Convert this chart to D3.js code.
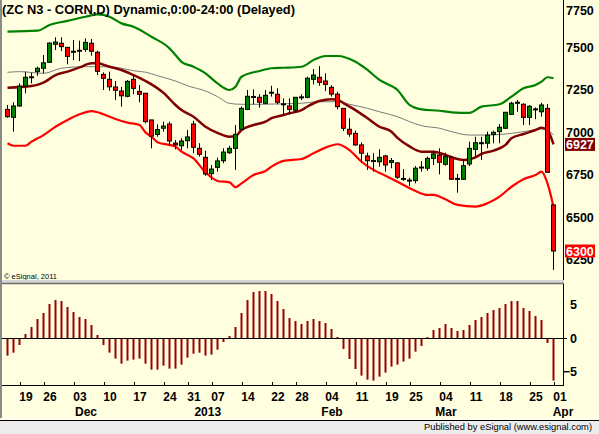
<!DOCTYPE html>
<html>
<head>
<meta charset="utf-8">
<script src="https://cdn.jsdelivr.net/npm/d3@7"></script>
<style>
  body { margin: 0; background: #ffffe0; }
  svg { display: block; font-family: "Liberation Sans", Arial, sans-serif; }
</style>
</head>
<body>
<div id="chart"></div>
<script>
// ZC N3 daily bars, Nov 14 2012 .. Mar 28 2013 (bar index 0..91)
var opens  = [7133,7086,7153,7270,7322,7355,7375,7410,7516,7522,7498,7472,7478,7486,7522,7469,7339,7310,7265,7241,
              7210,7310,7239,7228,7071,6986,7022,7047,6935,6919,6949,7047,6904,6851,6755,6792,6831,6878,6904,7016,
              7133,7206,7204,7169,7231,7222,7163,7153,7128,7204,7204,7310,7322,7300,7263,7223,7139,7016,6992,6924,
              6859,6829,6825,6859,6821,6818,6724,6714,6714,6791,6787,6845,6865,6810,6849,6724,6722,6812,6898,6934,
              6934,6986,7002,7022,7104,7172,7163,7086,7133,7119,7139,6571];
var highs  = [7159,7175,7286,7355,7349,7384,7453,7527,7557,7557,7498,7541,7537,7551,7547,7478,7351,7355,7300,7265,
              7306,7335,7276,7228,7071,7045,7061,7061,6953,6963,7012,7066,6934,6890,6806,6849,6904,6919,7041,7149,
              7247,7251,7222,7247,7272,7257,7198,7198,7204,7222,7325,7370,7388,7345,7276,7237,7139,7081,7008,6939,
              6878,6875,6898,6865,6847,6822,6782,6731,6800,6829,6855,6890,6904,6878,6855,6753,6841,6943,6972,6972,
              7002,7008,7047,7116,7178,7188,7169,7159,7145,7172,7165,6571];
var lows   = [7084,7002,7149,7228,7286,7331,7345,7407,7482,7476,7398,7423,7417,7472,7449,7335,7247,7243,7188,7149,
              7204,7222,7175,7051,6904,6972,7002,6924,6898,6894,6904,6875,6855,6743,6718,6767,6816,6871,6777,7012,
              7129,7163,7143,7163,7208,7163,7100,7104,7119,7188,7198,7280,7272,7241,7208,7133,7006,6972,6919,6819,
              6777,6767,6796,6767,6787,6724,6712,6682,6698,6767,6772,6806,6751,6802,6718,6643,6718,6800,6859,6835,
              6904,6934,6934,7018,7100,7119,7041,7041,7075,7090,6763,6189];
var closes = [7090,7153,7270,7322,7322,7375,7407,7523,7529,7502,7445,7472,7478,7527,7475,7357,7316,7266,7245,7213,
              7298,7257,7222,7061,6976,7014,7035,6947,6924,6947,6971,6910,6869,6753,6782,6830,6882,6904,6986,7139,
              7210,7206,7175,7216,7231,7175,7163,7133,7204,7204,7316,7335,7292,7280,7223,7149,7022,6988,6924,6875,
              6831,6829,6851,6806,6832,6734,6724,6714,6787,6791,6845,6871,6822,6855,6722,6724,6802,6904,6937,6934,
              6982,6998,7028,7116,7169,7172,7086,7151,7133,7159,6763,6300];

// oscillator histogram (lower panel)
var oscValues = [-2.65,-2.2,-1.05,0.6,1.65,2.85,3.75,5.1,5.7,5.55,4.65,3.9,3.15,2.85,1.95,0.45,-1.05,-2.2,-3.1,-3.85,
                 -3.4,-3.25,-3.1,-3.85,-4.75,-4.75,-4.15,-4.6,-4.6,-4.0,-2.95,-2.35,-2.2,-2.65,-2.5,-1.75,-0.6,0.3,1.65,3.75,
                 5.7,6.9,7.05,7.05,6.6,5.55,4.35,3.0,2.55,2.1,2.55,2.85,2.55,2.25,1.35,0.15,-1.65,-3.15,-4.65,-5.65,
                 -6.25,-6.4,-5.8,-5.2,-4.3,-4.0,-3.55,-3.1,-2.05,-1.2,0.15,1.2,1.5,2.1,1.5,1.05,1.2,1.95,2.7,3.15,
                 3.75,4.2,4.5,5.1,5.55,5.55,4.5,4.05,3.3,2.7,-0.75,-6.4];

// overlay lines, read as [bar index, price]
var upperBand = [[0,7590],[5,7596],[7,7629],[10,7654],[13,7678],[15,7692],[17,7678],[19,7639],[21,7619],[24,7560],
                 [27,7492],[28,7453],[29,7413],[31,7384],[33,7345],[35,7286],[37,7247],[38,7266],[39,7325],[42,7359],
                 [44,7375],[46,7378],[49,7384],[51,7423],[53,7447],[55,7447],[58,7413],[60,7365],[62,7306],[65,7247],
                 [67,7159],[69,7133],[72,7125],[74,7116],[77,7113],[79,7149],[82,7163],[84,7208],[86,7257],[88,7276],
                 [89,7296],[90,7322],[91,7316]];
var midLine   = [[0,7260],[4,7270],[6,7290],[8,7335],[10,7355],[12,7380],[14,7404],[15,7404],[17,7384],[19,7365],
                 [21,7335],[22,7319],[24,7280],[26,7230],[28,7159],[29,7129],[31,7090],[33,7031],[35,6995],[37,6972],
                 [38,6976],[39,7012],[41,7041],[43,7061],[44,7081],[46,7100],[47,7110],[49,7129],[50,7150],[52,7182],
                 [54,7192],[55,7190],[56,7170],[58,7129],[60,7081],[62,7031],[64,7002],[65,6965],[67,6915],[69,6884],
                 [71,6884],[73,6865],[75,6841],[76,6835],[78,6851],[79,6871],[81,6890],[83,6924],[84,6963],[86,6988],
                 [88,7012],[89,7025],[90,7010],[91,6927]];
var longLine  = [[0,7351],[2,7355],[6,7345],[9,7375],[13,7384],[16,7384],[19,7375],[21,7360],[23,7352],[25,7331],
                 [28,7300],[30,7272],[33,7241],[35,7208],[37,7168],[39,7163],[42,7163],[45,7165],[49,7169],[52,7178],
                 [55,7178],[57,7163],[60,7139],[62,7119],[65,7090],[67,7061],[69,7037],[72,7022],[74,7002],[77,6982],
                 [80,6982],[84,6992],[87,7008],[89,7018],[90,7012],[91,6982]];
var lowerBand = [[0,6934],[1,6919],[3,6919],[4,6943],[6,6982],[8,7031],[10,7071],[12,7104],[14,7123],[15,7116],
                 [16,7104],[18,7076],[20,7055],[22,7041],[23,6998],[24,6972],[25,6940],[28,6914],[29,6884],[31,6845],
                 [33,6763],[35,6712],[37,6704],[38,6675],[39,6698],[41,6747],[43,6771],[44,6796],[46,6830],[49,6841],
                 [51,6875],[53,6908],[55,6928],[57,6894],[59,6825],[61,6777],[63,6743],[65,6708],[68,6653],[70,6630],
                 [71,6630],[73,6604],[75,6571],[78,6561],[80,6581],[82,6620],[84,6678],[86,6722],[88,6747],[89,6767],
                 [90,6698],[91,6560]];

// axes
var priceTicks = [6250,6500,6750,7000,7250,7500,7750];
var oscTicks = [-5,0,5];
var dayTickIdx = [3,7,12,17,22,27,31,35,40,45,49,54,59,64,68,73,78,83,88,92];
var dayTickLabels = ["19","26","03","10","17","24","31","07","14","22","28","04","11","19","25","04","11","18","25","01"];
var monthIdx = [13,33.3,54,73,92.5];
var monthLabels = ["Dec","2013","Feb","Mar","Apr"];
var lastMid = 6927, lastClose = 6300;

var svgWidth = 599, svgHeight = 434;
var svg = d3.select("#chart").append("svg")
  .attr("width", svgWidth)
  .attr("height", svgHeight);

svg.append("rect").attr("width", svgWidth).attr("height", svgHeight).attr("fill", "#ffffe0");

var x = d3.scaleLinear().domain([0, 92]).range([7, 559]);
var yP = d3.scaleLinear().domain([6250, 7750]).range([259.5, 4.5]);
var yH = d3.scaleLinear().domain([-5, 5]).range([371.3, 304.7]);

svg.append("clipPath").attr("id", "mainClip")
  .append("rect").attr("x", 2).attr("y", 0).attr("width", 561).attr("height", 281);

var main = svg.append("g").attr("clip-path", "url(#mainClip)");

// --- overlay lines
var line = d3.line()
  .x(d => x(d[0]) + 0.5)
  .y(d => yP(d[1]))
  .curve(d3.curveMonotoneX);

main.append("path").datum(longLine).attr("d", line)
  .attr("fill", "none").attr("stroke", "#7a7a7a").attr("stroke-width", 1);
main.append("path").datum(upperBand).attr("d", line)
  .attr("fill", "none").attr("stroke", "#008000").attr("stroke-width", 2.2);
main.append("path").datum(lowerBand).attr("d", line)
  .attr("fill", "none").attr("stroke", "#ff0000").attr("stroke-width", 2.2);
main.append("path").datum(midLine).attr("d", line)
  .attr("fill", "none").attr("stroke", "#800000").attr("stroke-width", 2.5);

// --- candles
var bars = d3.range(opens.length).map(function(i) {
  return { i: i, o: opens[i], h: highs[i], l: lows[i], c: closes[i] };
});

var candles = main.selectAll("g.candle")
  .data(bars)
  .enter()
  .append("g")
  .attr("class", "candle");

candles.append("line")
  .attr("x1", d => x(d.i) + 0.5)
  .attr("x2", d => x(d.i) + 0.5)
  .attr("y1", d => yP(d.h))
  .attr("y2", d => yP(d.l))
  .attr("stroke", "#000")
  .attr("stroke-width", 1);

candles.filter(d => d.o !== d.c)
  .append("rect")
  .attr("x", d => x(d.i) - 1.5)
  .attr("width", 4)
  .attr("y", d => yP(Math.max(d.o, d.c)))
  .attr("height", d => Math.max(1, Math.abs(yP(d.o) - yP(d.c))))
  .attr("fill", d => d.c > d.o ? "#008000" : "#ff0000")
  .attr("stroke", "#000")
  .attr("stroke-width", 1);

candles.filter(d => d.o === d.c)
  .append("rect")
  .attr("x", d => x(d.i) - 2)
  .attr("width", 5)
  .attr("y", d => yP(d.c) - 1)
  .attr("height", 2)
  .attr("fill", "#000");

// copyright note
svg.append("text").attr("x", 4).attr("y", 279)
  .attr("font-size", "7.5px").attr("fill", "#000")
  .text("\u00a9 eSignal, 2011");

// title
svg.append("text").attr("x", 2).attr("y", 14)
  .attr("font-size", "13px").attr("font-weight", "bold")
  .attr("textLength", 293).attr("lengthAdjust", "spacingAndGlyphs")
  .text("(ZC N3 - CORN,D) Dynamic,0:00-24:00 (Delayed)");

// --- price axis
var priceAxis = d3.axisRight(yP)
  .tickValues(priceTicks)
  .tickSize(0)
  .tickPadding(0)
  .tickFormat(d3.format("d"));

var pAxisG = svg.append("g")
  .attr("transform", "translate(566,0)")
  .call(priceAxis);
pAxisG.select(".domain").remove();
pAxisG.selectAll("text")
  .attr("font-family", "Liberation Sans, Arial, sans-serif")
  .attr("font-size", "12.5px").attr("font-weight", "bold").attr("fill", "#000");
pAxisG.selectAll(".tick").filter(d => d === 7750).select("text").attr("y", 6);

// last value flags
function flag(value, color) {
  var g = svg.append("g").attr("transform", "translate(565," + yP(value) + ")");
  g.append("rect").attr("x", 0).attr("y", -6.5).attr("width", 30).attr("height", 13).attr("fill", color);
  g.append("text").attr("x", 1).attr("y", 0).attr("dy", "0.36em")
    .attr("font-size", "12.5px").attr("font-weight", "bold").attr("fill", "#fff")
    .text(value);
}
flag(lastMid, "#800000");
flag(lastClose, "#ff0000");

// right border of price panel
svg.append("line").attr("x1", 563.5).attr("x2", 563.5).attr("y1", 0).attr("y2", 283)
  .attr("stroke", "#000");

// panel separator
svg.append("rect").attr("x", 0).attr("y", 280).attr("width", 564).attr("height", 3).attr("fill", "#d4d4d4");
svg.append("line").attr("x1", 0).attr("x2", 564).attr("y1", 283.5).attr("y2", 283.5)
  .attr("stroke", "#6e6e6e").attr("stroke-width", 1.5);

// --- oscillator panel
var osc = svg.append("g");
osc.selectAll("rect.osc")
  .data(oscValues)
  .enter()
  .append("rect")
  .attr("class", "osc")
  .attr("x", (d, i) => x(i) - 0.5)
  .attr("width", 2)
  .attr("y", d => Math.min(yH(d), yH(0)))
  .attr("height", d => Math.abs(yH(d) - yH(0)))
  .attr("fill", "#990000");

svg.append("line").attr("x1", 2).attr("x2", 567).attr("y1", Math.round(yH(0)) + 0.5).attr("y2", Math.round(yH(0)) + 0.5)
  .attr("stroke", "#000");

var oscAxis = d3.axisRight(yH).tickValues(oscTicks).tickSize(0).tickPadding(0);
var oAxisG = svg.append("g").attr("transform", "translate(577,0)").call(oscAxis);
oAxisG.select(".domain").remove();
oAxisG.selectAll("text")
  .attr("text-anchor", "end")
  .attr("font-family", "Liberation Sans, Arial, sans-serif")
  .attr("font-size", "12.5px").attr("font-weight", "bold").attr("fill", "#000");

svg.append("line").attr("x1", 563.5).attr("x2", 563.5).attr("y1", 284).attr("y2", 386)
  .attr("stroke", "#000");
svg.append("line").attr("x1", 0).attr("x2", 564).attr("y1", 385.5).attr("y2", 385.5)
  .attr("stroke", "#000");

// --- date axis
svg.append("g").selectAll("line")
  .data(dayTickIdx)
  .enter()
  .append("line")
  .attr("x1", d => Math.round(x(d) - 5) + 0.5)
  .attr("x2", d => Math.round(x(d) - 5) + 0.5)
  .attr("y1", 382)
  .attr("y2", 386)
  .attr("stroke", "#000");

svg.append("g").selectAll("text")
  .data(dayTickIdx)
  .enter()
  .append("text")
  .attr("x", d => x(d) + 1)
  .attr("y", 401)
  .attr("text-anchor", "middle")
  .attr("font-size", "12px").attr("font-weight", "bold")
  .text((d, i) => dayTickLabels[i]);

svg.append("g").selectAll("text")
  .data(monthIdx)
  .enter()
  .append("text")
  .attr("x", d => x(d) + 1)
  .attr("y", 416)
  .attr("text-anchor", "middle")
  .attr("font-size", "12px").attr("font-weight", "bold")
  .text((d, i) => monthLabels[i]);

// left frame
svg.append("rect").attr("x", 0).attr("y", 0).attr("width", 2).attr("height", 419).attr("fill", "#8a8a8a");

// footer
svg.append("line").attr("x1", 0).attr("x2", svgWidth).attr("y1", 418.5).attr("y2", 418.5).attr("stroke", "#ffffff");
svg.append("rect").attr("x", 0).attr("y", 420).attr("width", svgWidth).attr("height", 14).attr("fill", "#ececec");
svg.append("line").attr("x1", 0).attr("x2", svgWidth).attr("y1", 420.5).attr("y2", 420.5).attr("stroke", "#000");
svg.append("text").attr("x", 592).attr("y", 430)
  .attr("text-anchor", "end")
  .attr("font-size", "9.5px").attr("fill", "#000")
  .attr("textLength", 168).attr("lengthAdjust", "spacingAndGlyphs")
  .text("Published by eSignal (www.esignal.com)");
</script>
</body>
</html>
